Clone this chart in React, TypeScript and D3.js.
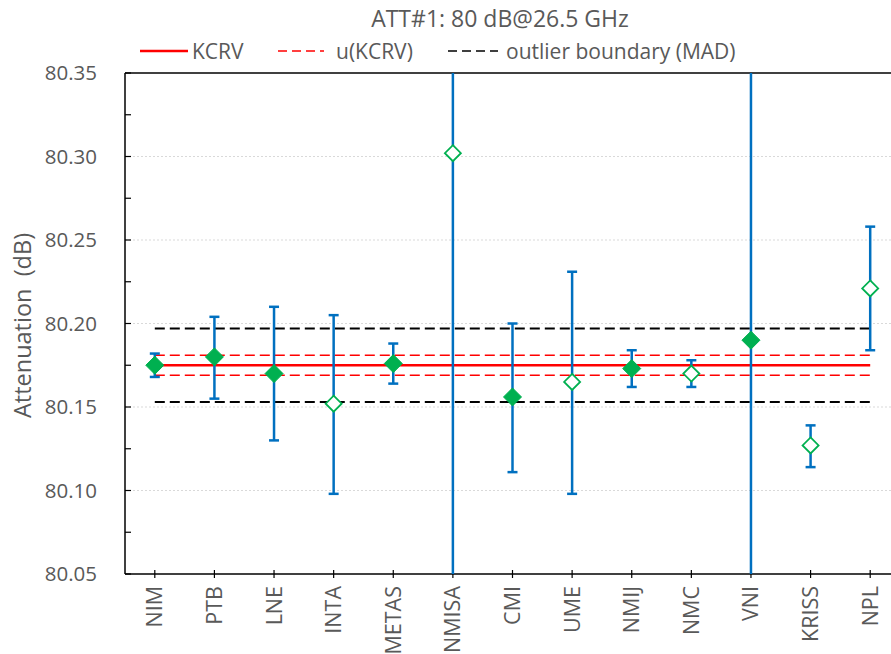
import React from "react";
import * as d3 from "d3";

const categories = ["NIM", "PTB", "LNE", "INTA", "METAS", "NMISA", "CMI", "UME", "NMIJ", "NMC", "VNI", "KRISS", "NPL"];
const values = [80.175, 80.18, 80.17, 80.152, 80.176, 80.302, 80.156, 80.165, 80.173, 80.17, 80.19, 80.127, 80.221];
const upper = [80.182, 80.204, 80.21, 80.205, 80.188, 80.7, 80.2, 80.231, 80.184, 80.178, 80.6, 80.139, 80.258];
const lower = [80.168, 80.155, 80.13, 80.098, 80.164, 79.9, 80.111, 80.098, 80.162, 80.162, 79.8, 80.114, 80.184];
const outlier = [false, false, false, true, false, true, false, true, false, true, false, true, true];
const kcrv = 80.175;
const uKcrv = 0.006;
const madBoundary = 0.022;
const yTicks = [80.05, 80.1, 80.15, 80.2, 80.25, 80.3, 80.35];
const yMinor = [80.075, 80.125, 80.175, 80.225, 80.275, 80.325];
const title = "ATT#1: 80 dB@26.5 GHz";
const yTitle = "Attenuation  (dB)";
const legendLabels = ["KCRV", "u(KCRV)", "outlier boundary (MAD)"];

const W = 891, H = 654;
const L = 125, T = 73, B = 574, R = 900;
const FONT = "'Open Sans', Lato, sans-serif";
const TXT = "#595959";
const BLUE = "#0070C0";
const GREEN = "#00B050";

export default function App() {
  const x = d3.scalePoint<string>().domain(categories).range([L + 29.8, R - 29.8]);
  const y = d3.scaleLinear().domain([80.05, 80.35]).range([B, T]);
  const x0 = x(categories[0])!;
  const x1 = x(categories[categories.length - 1])!;
  const diamond = (cx: number, cy: number, r: number) =>
    `M${cx},${cy - r}L${cx + r},${cy}L${cx},${cy + r}L${cx - r},${cy}Z`;

  return (
    <svg width={W} height={H} style={{ position: "absolute", left: 0, top: 0, background: "#fff" }} fontFamily={FONT}>
      <defs>
        <clipPath id="plot">
          <rect x={L} y={T} width={R - L} height={B - T} />
        </clipPath>
      </defs>
      <rect width={W} height={H} fill="#fff" />
      {/* gridlines */}
      {yTicks.slice(1, -1).map((t) => (
        <line key={t} x1={L} x2={W} y1={y(t)} y2={y(t)} stroke="#d9d9d9" strokeWidth={1} strokeDasharray="2,2" />
      ))}
      {/* axes */}
      <line x1={L} x2={W} y1={T} y2={T} stroke="#000" strokeWidth={1.5} />
      <line x1={L} x2={W} y1={B} y2={B} stroke="#000" strokeWidth={1.5} />
      <line x1={L} x2={L} y1={T} y2={B} stroke="#000" strokeWidth={1.5} />
      {[...yTicks, ...yMinor].map((t) => (
        <line key={"t" + t} x1={L} x2={L + 6} y1={y(t)} y2={y(t)} stroke="#000" strokeWidth={1.2} />
      ))}
      {categories.map((c) => (
        <line key={"xt" + c} x1={x(c)} x2={x(c)} y1={B - 4} y2={B + 4} stroke="#000" strokeWidth={1.2} />
      ))}
      {/* y tick labels */}
      {yTicks.map((t) => (
        <text key={"yl" + t} x={97} y={y(t)} dy="0.36em" textAnchor="end" fontSize={20.5} fill={TXT}>
          {t.toFixed(2)}
        </text>
      ))}
      <text transform={`translate(31,${(T + B) / 2 + 2}) rotate(-90)`} textAnchor="middle" fontSize={23.5} fill={TXT} style={{ whiteSpace: "pre" }}>
        {yTitle}
      </text>
      {/* x labels */}
      {categories.map((c) => (
        <text key={"xl" + c} transform={`translate(${x(c)! + 7.5},586) rotate(-90)`} textAnchor="end" fontSize={21.5} fill={TXT}>
          {c}
        </text>
      ))}
      {/* reference lines */}
      <line x1={x0} x2={x1} y1={y(kcrv + madBoundary)} y2={y(kcrv + madBoundary)} stroke="#000" strokeWidth={2} strokeDasharray="10,5" />
      <line x1={x0} x2={x1} y1={y(kcrv - madBoundary)} y2={y(kcrv - madBoundary)} stroke="#000" strokeWidth={2} strokeDasharray="10,5" />
      <line x1={x0} x2={x1} y1={y(kcrv + uKcrv)} y2={y(kcrv + uKcrv)} stroke="#FF0000" strokeWidth={1.5} strokeDasharray="10,5" />
      <line x1={x0} x2={x1} y1={y(kcrv - uKcrv)} y2={y(kcrv - uKcrv)} stroke="#FF0000" strokeWidth={1.5} strokeDasharray="10,5" />
      <line x1={x0} x2={x1} y1={y(kcrv)} y2={y(kcrv)} stroke="#FF0000" strokeWidth={2.5} />
      {/* error bars */}
      <g clipPath="url(#plot)">
        {categories.map((c, i) => {
          const cx = x(c)!;
          return (
            <g key={"eb" + c} stroke={BLUE} strokeWidth={2.5}>
              <line x1={cx} x2={cx} y1={y(upper[i])} y2={y(lower[i])} />
              <line x1={cx - 5} x2={cx + 5} y1={y(upper[i])} y2={y(upper[i])} />
              <line x1={cx - 5} x2={cx + 5} y1={y(lower[i])} y2={y(lower[i])} />
            </g>
          );
        })}
      </g>
      {/* markers */}
      {categories.map((c, i) =>
        outlier[i] ? (
          <path key={"m" + c} d={diamond(x(c)!, y(values[i]), 8)} fill="#fff" stroke={GREEN} strokeWidth={1.8} />
        ) : (
          <path key={"m" + c} d={diamond(x(c)!, y(values[i]), 9)} fill={GREEN} stroke={GREEN} strokeWidth={1} />
        )
      )}
      {/* title */}
      <text x={500} y={27} textAnchor="middle" fontSize={23} fill={TXT}>
        {title}
      </text>
      {/* legend */}
      <line x1={140} x2={188} y1={51} y2={51} stroke="#FF0000" strokeWidth={2.5} />
      <text x={192} y={51} dy="0.36em" fontSize={21} fill={TXT}>{legendLabels[0]}</text>
      <line x1={278} x2={324} y1={51} y2={51} stroke="#FF0000" strokeWidth={1.5} strokeDasharray="9,5" />
      <text x={336} y={51} dy="0.36em" fontSize={21} fill={TXT}>{legendLabels[1]}</text>
      <line x1={448} x2={498} y1={51} y2={51} stroke="#000" strokeWidth={1.5} strokeDasharray="9,5" />
      <text x={506} y={51} dy="0.36em" fontSize={21} fill={TXT}>{legendLabels[2]}</text>
    </svg>
  );
}
